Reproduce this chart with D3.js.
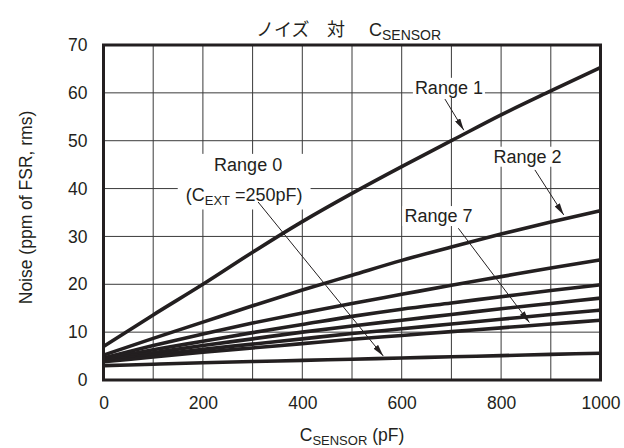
<!DOCTYPE html>
<html><head><meta charset="utf-8">
<script src="https://cdn.jsdelivr.net/npm/d3@7"></script>
<style>
body{margin:0;background:#fff}
svg{display:block}
text{font-family:"Liberation Sans",Arial,"Noto Sans CJK JP",sans-serif;fill:#231f20}
</style>
</head><body>
<svg id="chart" width="624" height="448"></svg>
<script>
// ---- data ----
const cSensor = [0, 100, 200, 300, 400, 500, 600, 700, 800, 900, 1000];
const range1 = [7.0, 13.6, 20.0, 26.7, 33.1, 39.0, 44.6, 50.0, 55.4, 60.4, 65.3];
const range2 = [5.2, 8.7, 12.1, 15.5, 18.8, 21.9, 25.0, 27.8, 30.5, 33.0, 35.4];
const range3 = [4.6, 7.2, 9.6, 11.9, 14.0, 16.0, 17.9, 19.8, 21.6, 23.4, 25.1];
const range4 = [4.4, 6.3, 8.1, 9.9, 11.6, 13.3, 14.8, 16.1, 17.4, 18.7, 19.9];
const range5 = [4.2, 5.7, 7.2, 8.6, 10.0, 11.3, 12.5, 13.7, 14.9, 16.0, 17.1];
const range6 = [4.0, 5.2, 6.4, 7.5, 8.6, 9.7, 10.7, 11.7, 12.7, 13.7, 14.6];
const range7 = [3.8, 4.8, 5.8, 6.7, 7.6, 8.5, 9.3, 10.1, 10.9, 11.7, 12.5];
const range0 = [3.0, 3.3, 3.6, 3.85, 4.1, 4.35, 4.6, 4.85, 5.1, 5.35, 5.6];
const seriesNames = ["Range 1", "Range 2", "Range 3", "Range 4", "Range 5", "Range 6", "Range 7", "Range 0"];
const seriesValues = [range1, range2, range3, range4, range5, range6, range7, range0];
const xTicks = [0, 200, 400, 600, 800, 1000];
const yTicks = [0, 10, 20, 30, 40, 50, 60, 70];
const xGrid = [0, 100, 200, 300, 400, 500, 600, 700, 800, 900, 1000];

// annotation anchors in data units: label [x, baseline y], arrow from -> to
const annLabels = ["Range 1", "Range 2", "Range 7"];
const annLabelAt = [[695, 59.8], [853, 45.4], [674, 33.0]];
const annArrowFrom = [[687, 58.7], [868, 43.9], [714, 31.7]];
const annArrowTo = [[725, 52.2], [926, 34.5], [857, 12.0]];
const r0LabelAt = [[291, 43.7], [283, 37.3]];
const r0ArrowFrom = [311, 37.2];
const r0ArrowTo = [563, 5.0];

// ---- chart ----
const svg = d3.select("#chart");
const L = 103.5, R = 600.5, T = 45, B = 380;
const x = d3.scaleLinear().domain([0, 1000]).range([L, R]);
const y = d3.scaleLinear().domain([0, 70]).range([B, T]);
const ink = "#231f20";

// grid
const grid = svg.append("g");
grid.selectAll(".vg").data(xGrid).join("line")
  .attr("x1", d => x(d)).attr("x2", d => x(d)).attr("y1", T).attr("y2", B)
  .attr("stroke", "#3a3a3a").attr("stroke-width", 1);
grid.selectAll(".hg").data(yTicks).join("line")
  .attr("y1", d => y(d)).attr("y2", d => y(d)).attr("x1", L).attr("x2", R)
  .attr("stroke", "#3a3a3a").attr("stroke-width", 1);

// axes (labels only)
const xAxis = svg.append("g").attr("transform", `translate(0,${B})`)
  .call(d3.axisBottom(x).tickValues(xTicks).tickSize(0).tickPadding(17).tickFormat(d3.format("d")));
const yAxis = svg.append("g").attr("transform", `translate(${L},0)`)
  .call(d3.axisLeft(y).tickValues(yTicks).tickSize(0).tickPadding(16).tickFormat(d3.format("d")));
[xAxis, yAxis].forEach(a => {
  a.select(".domain").remove();
  a.attr("font-family", null);
  a.selectAll("text").attr("font-size", 17.5).style("fill", ink);
});

// label boxes (white) drawn above grid
const boxLayer = svg.append("g");
// lines
const line = d3.line().x((d, i) => x(cSensor[i])).y(d => y(d)).curve(d3.curveMonotoneX);
svg.append("g").selectAll("path").data(seriesValues).join("path")
  .attr("d", d => line(d)).attr("fill", "none").attr("stroke", ink)
  .attr("stroke-width", 3.6).attr("data-name", (d, i) => seriesNames[i]);

// frame
svg.append("rect").attr("x", L).attr("y", T).attr("width", R - L).attr("height", B - T)
  .attr("fill", "none").attr("stroke", ink).attr("stroke-width", 3);

// arrow marker
svg.append("defs").append("marker").attr("id", "ah")
  .attr("viewBox", "0 0 12 6").attr("refX", 12).attr("refY", 3)
  .attr("markerWidth", 12).attr("markerHeight", 6).attr("markerUnits", "userSpaceOnUse")
  .attr("orient", "auto")
  .append("path").attr("d", "M0,0 L12,3 L0,6 Z").attr("fill", ink);

const textLayer = svg.append("g");
function addBox(nodes, px, py) {
  let x0 = Infinity, y0 = Infinity, x1 = -Infinity, y1 = -Infinity;
  nodes.forEach(n => { const b = n.getBBox(); x0 = Math.min(x0, b.x); y0 = Math.min(y0, b.y); x1 = Math.max(x1, b.x + b.width); y1 = Math.max(y1, b.y + b.height); });
  boxLayer.append("rect").attr("x", x0 - px).attr("y", y0 - py).attr("width", x1 - x0 + 2 * px).attr("height", y1 - y0 + 2 * py).attr("fill", "#fff");
}
annLabels.forEach((t, i) => {
  const tx = textLayer.append("text").attr("x", x(annLabelAt[i][0])).attr("y", y(annLabelAt[i][1]))
    .attr("text-anchor", "middle").attr("font-size", 18).text(t);
  addBox([tx.node()], 2, 0);
  svg.append("line").attr("x1", x(annArrowFrom[i][0])).attr("y1", y(annArrowFrom[i][1]))
    .attr("x2", x(annArrowTo[i][0])).attr("y2", y(annArrowTo[i][1]))
    .attr("stroke", ink).attr("stroke-width", 1).attr("marker-end", "url(#ah)");
});
const r0a = textLayer.append("text").attr("x", x(r0LabelAt[0][0])).attr("y", y(r0LabelAt[0][1]))
  .attr("text-anchor", "middle").attr("font-size", 18).text("Range 0");
const r0b = textLayer.append("text").attr("x", x(r0LabelAt[1][0])).attr("y", y(r0LabelAt[1][1]))
  .attr("text-anchor", "middle").attr("font-size", 18);
r0b.append("tspan").text("(C");
r0b.append("tspan").attr("font-size", 13).attr("dy", 4).text("EXT");
r0b.append("tspan").attr("dy", -4).text(" =250pF)");
addBox([r0a.node(), r0b.node()], 8, 1);
svg.append("line").attr("x1", x(r0ArrowFrom[0])).attr("y1", y(r0ArrowFrom[1]))
  .attr("x2", x(r0ArrowTo[0])).attr("y2", y(r0ArrowTo[1]))
  .attr("stroke", ink).attr("stroke-width", 1).attr("marker-end", "url(#ah)");

// title
const title = svg.append("text").attr("y", 36).attr("font-size", 18);
title.append("tspan").attr("x", 256).text("ノイズ");
title.append("tspan").attr("x", 327).text("対");
title.append("tspan").attr("x", 369).text("C");
title.append("tspan").attr("font-size", 14).attr("dy", 4).text("SENSOR");

// x label
const xl = svg.append("text").attr("x", (L + R) / 2).attr("y", 441).attr("text-anchor", "middle").attr("font-size", 17.5);
xl.append("tspan").text("C");
xl.append("tspan").attr("font-size", 13).attr("dy", 4).text("SENSOR");
xl.append("tspan").attr("dy", -4).text(" (pF)");

// y label
svg.append("text").attr("transform", "translate(31.5,207.5) rotate(-90)")
  .attr("text-anchor", "middle").attr("font-size", 17.5).text("Noise (ppm of FSR, rms)");
</script>
</body></html>
